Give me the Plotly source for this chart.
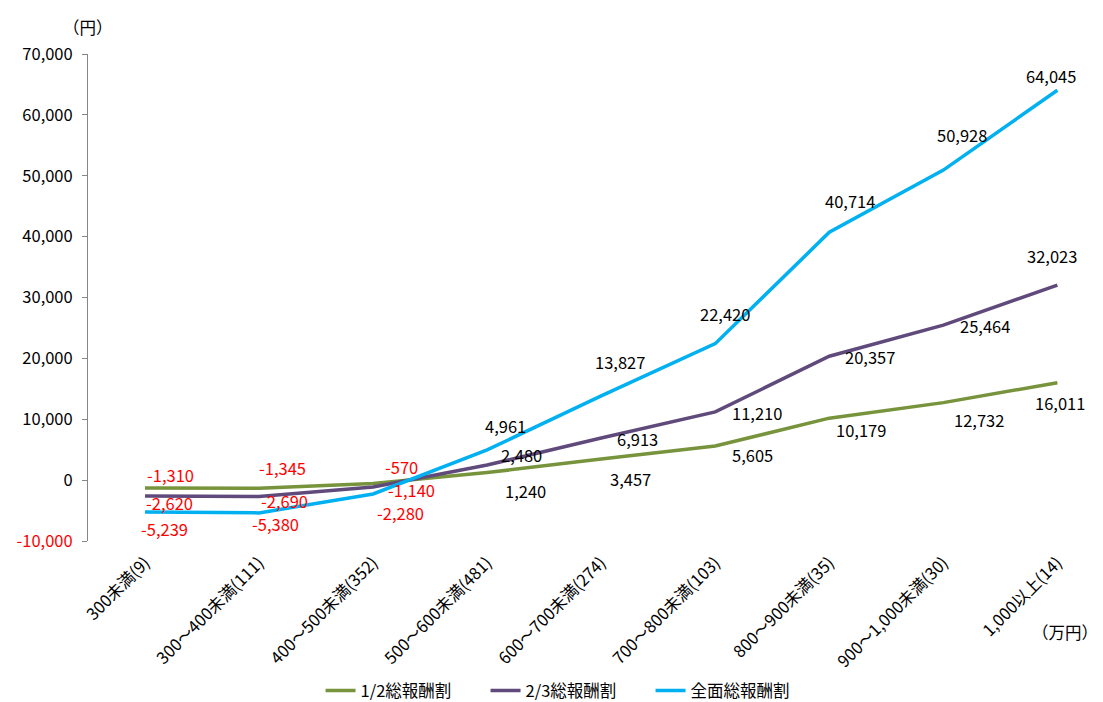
import plotly.graph_objects as go

# 年収階層（万円）と人数
categories = ["300未満(9)", "300～400未満(111)", "400～500未満(352)", "500～600未満(481)",
              "600～700未満(274)", "700～800未満(103)", "800～900未満(35)",
              "900～1,000未満(30)", "1,000以上(14)"]

half = [-1310, -1345, -570, 1240, 3457, 5605, 10179, 12732, 16011]
two_thirds = [-2620, -2690, -1140, 2480, 6913, 11210, 20357, 25464, 32023]
full = [-5239, -5380, -2280, 4961, 13827, 22420, 40714, 50928, 64045]

series_names = ["1/2総報酬割", "2/3総報酬割", "全面総報酬割"]
y_ticks = [-10000, 0, 10000, 20000, 30000, 40000, 50000, 60000, 70000]

colors = ["#77933C", "#604A7B", "#00B0F0"]

# ラベルのずらし量（px）：xshift, yshift
label_offsets = [
    [(25, 13), (23, 20), (28, 17), (38, -18), (29, -20), (37, -9), (32, -12), (36, -17), (3, -20)],
    [(24, -7), (25, -4), (38, -3), (34, 10), (36, -1), (42, -1), (41, -1), (42, -1), (-5, 29)],
    [(19, -17), (16, -11), (27, -19), (18, 24), (19, 34), (10, 30), (21, 31), (19, 35), (-6, 14)],
]

FONT = "Noto Sans CJK JP, Noto Sans, sans-serif"
AXIS_GRAY = "#868686"
FS = 16.5

fig = go.Figure()
annotations = []
for name, values, color, offsets in zip(series_names, [half, two_thirds, full], colors, label_offsets):
    fig.add_trace(go.Scatter(
        x=categories, y=values, name=name, mode="lines",
        line=dict(color=color, width=3.5),
    ))
    for cat, v, (dx, dy) in zip(categories, values, offsets):
        annotations.append(dict(
            x=cat, y=v, xref="x", yref="y", text=f"{v:,}", showarrow=False,
            xshift=dx, yshift=dy, xanchor="center", yanchor="middle",
            font=dict(family=FONT, size=FS, color="#FF0000" if v < 0 else "#000000"),
        ))

annotations.append(dict(x=0.0, y=1.055, xref="paper", yref="paper", text="（円）",
                        xanchor="center", yanchor="middle",
                        showarrow=False, font=dict(family=FONT, size=FS, color="#000000")))
annotations.append(dict(x=0.963, y=-0.187, xref="paper", yref="paper", text="（万円）",
                        xanchor="center", yanchor="middle",
                        showarrow=False, font=dict(family=FONT, size=FS, color="#000000")))

y_text = [f"<span style='color:#FF0000'>{v:,}</span>" if v < 0 else f"{v:,}" for v in y_ticks]

x_range = [-0.5, 8.4]

fig.update_layout(
    width=1103, height=702,
    margin=dict(l=88, r=0, t=54, b=161),
    paper_bgcolor="white", plot_bgcolor="white",
    font=dict(family=FONT, size=FS, color="#000000"),
    showlegend=True,
    legend=dict(orientation="h", xref="container", yref="container",
                x=0.515, xanchor="center", y=0.016, yanchor="middle",
                font=dict(family=FONT, size=FS), entrywidth=120, entrywidthmode="pixels"),
    xaxis=dict(type="category", range=x_range, showline=False, ticks="",
               showgrid=False, zeroline=False, tickangle=-45, ticklabelstandoff=8,
               tickfont=dict(family=FONT, size=FS)),
    xaxis2=dict(type="linear", overlaying="x", anchor="free", position=0.125,
                range=x_range, showline=True, linecolor=AXIS_GRAY, linewidth=1,
                ticks="outside", ticklen=5, tickcolor=AXIS_GRAY,
                tickvals=[0.5, 1.5, 2.5, 3.5, 4.5, 5.5, 6.5, 7.5],
                showticklabels=False, showgrid=False, zeroline=False),
    yaxis=dict(range=[-10000, 70000], tickvals=y_ticks, ticktext=y_text,
               showline=True, linecolor=AXIS_GRAY, linewidth=1,
               ticks="outside", ticklen=5, tickcolor=AXIS_GRAY,
               showgrid=False, zeroline=False, ticklabelstandoff=6,
               tickfont=dict(family=FONT, size=FS)),
    annotations=annotations,
)

fig.write_html("out.html")
